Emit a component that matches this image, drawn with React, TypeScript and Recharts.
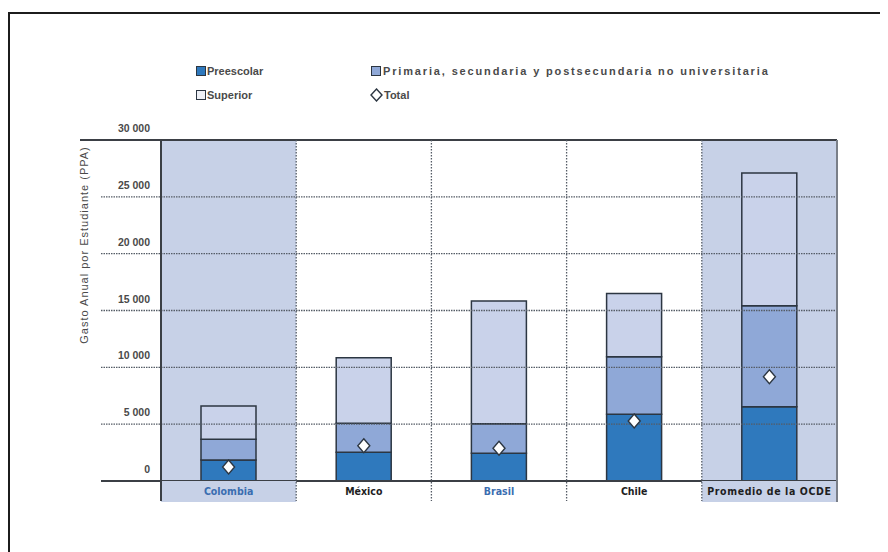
import React from 'react';
import {
  ComposedChart,
  Bar,
  Line,
  XAxis,
  YAxis,
  ReferenceArea,
  ReferenceLine,
} from 'recharts';

// Annual spending per student by education level (PPP)
const categories = ['Colombia', 'México', 'Brasil', 'Chile', 'Promedio de la OCDE'];
const preescolar = [1850, 2520, 2440, 5870, 6540];
const primaria = [1820, 2550, 2600, 5060, 8880];
const superior = [2930, 5780, 10790, 5570, 11680];
const total = [1230, 3100, 2880, 5280, 9170];
const highlighted = ['Colombia', 'Promedio de la OCDE'];
const blueLabels = ['Colombia', 'Brasil'];
const yTicks = [0, 5000, 10000, 15000, 20000, 25000, 30000];

const data = categories.map((name, i) => ({
  name,
  preescolar: preescolar[i],
  primaria: primaria[i],
  superior: superior[i],
  total: total[i],
}));

const COLORS = {
  pre: '#2f79bd',
  prim: '#8fa8d7',
  sup: '#c9d2ea',
  band: '#c7d1e7',
  outline: '#2c3642',
  grid: '#555c66',
  text: '#3a3a3a',
  blue: '#3a6db0',
};

const CHART_W = 880;
const CHART_H = 544;
const MARGIN = { top: 132, right: 51, bottom: 41, left: 83 };
const Y_AXIS_W = 70;
const X_AXIS_H = 30;
const PLOT_W = CHART_W - MARGIN.left - MARGIN.right - Y_AXIS_W;
const PLOT_H = CHART_H - MARGIN.top - MARGIN.bottom - X_AXIS_H;
const BAND = PLOT_W / categories.length;
const Y_MAX = yTicks[yTicks.length - 1];
const innerTicks = yTicks.filter((t) => t !== 0 && t !== Y_MAX);

const fmt = (v: number) => (v === 0 ? '0' : `${Math.floor(v / 1000)} 000`);

const YTick = (props: any) => {
  const { x, y, payload } = props;
  const v = payload.value as number;
  const isTop = v === Y_MAX;
  const isZero = v === 0;
  return (
    <g>
      <line
        x1={x - (isTop ? 81 : 60)}
        x2={x}
        y1={y}
        y2={y}
        stroke={isTop || isZero ? '#3b3f45' : COLORS.grid}
        strokeWidth={isTop || isZero ? 2 : 1.3}
        strokeDasharray={isTop || isZero ? undefined : '1.5 1'}
      />
      <text
        x={x - 11}
        y={y - 8}
        textAnchor="end"
        fontFamily="Liberation Sans, Arial, sans-serif"
        fontWeight={700}
        fontSize={10.5}
        fill="#4a4a4a"
      >
        {fmt(v)}
      </text>
    </g>
  );
};

const XTick = (props: any) => {
  const { x, y, payload, index } = props;
  const name = payload.value as string;
  const isHi = highlighted.includes(name);
  const left = x - BAND / 2;
  const right = x + BAND / 2;
  const last = index === categories.length - 1;
  return (
    <g>
      {isHi && <rect x={left} y={y} width={BAND} height={21} fill={COLORS.band} />}
      <line
        x1={left}
        x2={left}
        y1={y - PLOT_H}
        y2={y + 20}
        stroke={index === 0 ? '#3b3f45' : COLORS.grid}
        strokeWidth={index === 0 ? 2 : 1.3}
        strokeDasharray={index === 0 ? undefined : '1.5 1.5'}
      />
      {last && (
        <line x1={right} x2={right} y1={y - PLOT_H} y2={y + 21} stroke="#7a7f88" strokeWidth={2} />
      )}
      <text
        x={x}
        y={y + 14}
        textAnchor="middle"
        fontFamily="Liberation Sans Narrow, DejaVu Sans Condensed, sans-serif"
        fontWeight={700}
        fontSize={10.5}
        letterSpacing={name.length > 10 ? 0.6 : 0}
        fill={blueLabels.includes(name) ? COLORS.blue : '#1e1e1e'}
      >
        {name}
      </text>
    </g>
  );
};

const Diamond = (props: any) => {
  const { cx, cy } = props;
  if (cx == null || cy == null) return null;
  return (
    <path
      d={`M${cx},${cy - 7} L${cx + 6},${cy} L${cx},${cy + 7} L${cx - 6},${cy} Z`}
      fill="#ffffff"
      stroke={COLORS.outline}
      strokeWidth={1.4}
    />
  );
};

const legendText: React.CSSProperties = {
  position: 'absolute',
  fontFamily: 'Liberation Sans, Arial, sans-serif',
  fontWeight: 700,
  fontSize: 11,
  color: '#4a4a4a',
  whiteSpace: 'nowrap',
  lineHeight: '12px',
};

const swatch = (fill: string): React.CSSProperties => ({
  position: 'absolute',
  width: 8,
  height: 8,
  background: fill,
  border: `1px solid ${COLORS.outline}`,
});

const LegendBox = () => (
  <div style={{ position: 'absolute', left: 0, top: 0, width: CHART_W, height: 110, pointerEvents: 'none' }}>
    <div style={{ ...swatch(COLORS.pre), left: 188, top: 58 }} />
    <div style={{ ...legendText, left: 199, top: 57 }}>Preescolar</div>
    <div style={{ ...swatch(COLORS.prim), left: 363, top: 58 }} />
    <div style={{ ...legendText, left: 375, top: 57, letterSpacing: 1.85 }}>
      Primaria, secundaria y postsecundaria no universitaria
    </div>
    <div style={{ ...swatch('#eef0f6'), left: 188, top: 82 }} />
    <div style={{ ...legendText, left: 199, top: 81 }}>Superior</div>
    <svg style={{ position: 'absolute', left: 362, top: 80 }} width={13} height={14}>
      <path d="M6.5,1 L12,7 L6.5,13 L1,7 Z" fill="#fff" stroke={COLORS.outline} strokeWidth={1.4} />
    </svg>
    <div style={{ ...legendText, left: 376, top: 81 }}>Total</div>
  </div>
);

const YLabel = () => (
  <text
    x={80}
    y={237}
    transform="rotate(-90 80 237)"
    textAnchor="middle"
    fontFamily="Liberation Sans, Arial, sans-serif"
    fontSize={11}
    letterSpacing={1}
    fill="#4a4a4a"
  >
    Gasto Anual por Estudiante (PPA)
  </text>
);

export default function App() {
  return (
    <div style={{ position: 'relative', width: CHART_W, height: CHART_H, background: '#fff' }}>
      <div
        style={{
          position: 'absolute',
          left: 0,
          top: 4,
          right: -20,
          bottom: -20,
          borderTop: '2px solid #1c1c1c',
          borderLeft: '2px solid #1c1c1c',
          pointerEvents: 'none',
        }}
      />
      <ComposedChart width={CHART_W} height={CHART_H} data={data} margin={MARGIN}>
        {highlighted.map((c) => (
          <ReferenceArea
            key={c}
            x1={c}
            x2={c}
            y1={0}
            y2={Y_MAX}
            fill={COLORS.band}
            fillOpacity={1}
            stroke="none"
          />
        ))}
        {innerTicks.map((t) => (
          <ReferenceLine
            key={t}
            y={t}
            stroke={COLORS.grid}
            strokeWidth={1.3}
            strokeDasharray="1.5 1"
          />
        ))}
        <ReferenceLine y={Y_MAX} stroke="#3b3f45" strokeWidth={2} />
        <XAxis
          dataKey="name"
          type="category"
          height={X_AXIS_H}
          tickLine={false}
          tickSize={0}
          tickMargin={0}
          axisLine={{ stroke: '#3b3f45', strokeWidth: 2 }}
          tick={<XTick />}
          interval={0}
        />
        <YAxis
          type="number"
          domain={[0, Y_MAX]}
          ticks={yTicks}
          width={Y_AXIS_W}
          tickLine={false}
          tickSize={0}
          tickMargin={0}
          axisLine={false}
          tick={<YTick />}
          interval={0}
        />
        <Bar dataKey="preescolar" stackId="s" barSize={55} fill={COLORS.pre} stroke={COLORS.outline} strokeWidth={1.5} isAnimationActive={false} />
        <Bar dataKey="primaria" stackId="s" barSize={55} fill={COLORS.prim} stroke={COLORS.outline} strokeWidth={1.5} isAnimationActive={false} />
        <Bar dataKey="superior" stackId="s" barSize={55} fill={COLORS.sup} stroke={COLORS.outline} strokeWidth={1.5} isAnimationActive={false} />
        <Line
          dataKey="total"
          stroke="none"
          dot={<Diamond />}
          activeDot={false}
          isAnimationActive={false}
        />
        <YLabel />
      </ComposedChart>
      <LegendBox />
    </div>
  );
}
